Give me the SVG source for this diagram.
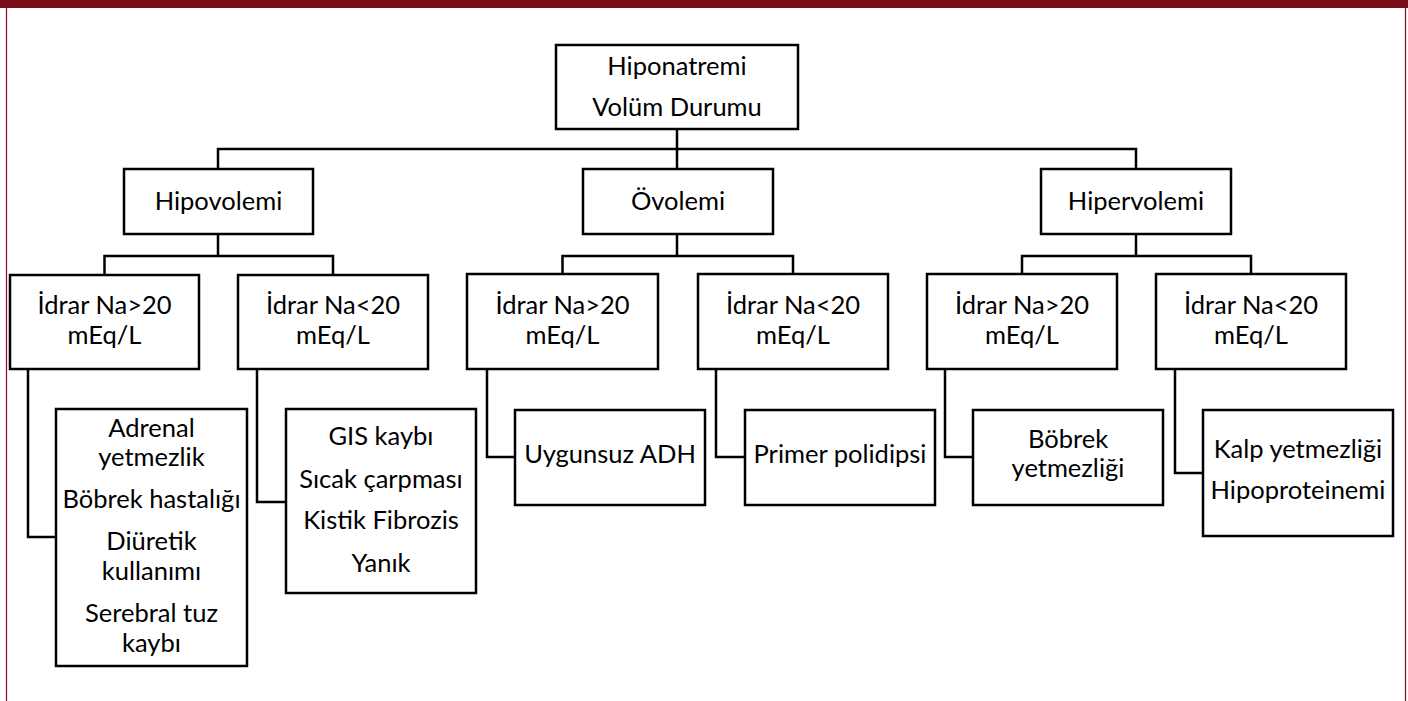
<svg xmlns="http://www.w3.org/2000/svg" width="1408" height="701" viewBox="0 0 1408 701">
<style>
.box{fill:#fff;stroke:#000;stroke-width:2.5}
.ln{fill:none;stroke:#000;stroke-width:2.5}
text{font-family:Lato,"Open Sans",sans-serif;font-size:25.5px;fill:#000;text-anchor:middle}
</style>
<rect x="0" y="0" width="1408" height="701" fill="#fff"/>
<rect x="0" y="0" width="1408" height="8" fill="#7a0f17"/>
<line x1="6.5" y1="8" x2="6.5" y2="701" stroke="#7a0f17" stroke-width="1.2"/>
<line x1="1405.5" y1="8" x2="1405.5" y2="701" stroke="#7a0f17" stroke-width="1.2"/>
<g id="connectors">
<path class="ln" d="M677 129V169M218 169V149H1136V169"/>
<path class="ln" d="M218 234V256M104.5 275V256H333V275"/>
<path class="ln" d="M677 234V256M562.5 274V256H793V274"/>
<path class="ln" d="M1136 234V256M1022 274V256H1251V274"/>
<path class="ln" d="M28 369V537H56"/>
<path class="ln" d="M257 369V502H286"/>
<path class="ln" d="M487 369V457H515"/>
<path class="ln" d="M716 369V457H745"/>
<path class="ln" d="M945 369V457H973"/>
<path class="ln" d="M1175 369V473H1203"/>
</g>
<g id="root"><rect class="box" x="556" y="45" width="242" height="84"/><text x="677" y="75">Hiponatremi</text><text x="677" y="116">Volüm Durumu</text></g>
<g id="hipovolemi"><rect class="box" x="124" y="169" width="189" height="65"/><text x="218.5" y="210">Hipovolemi</text></g>
<g id="ovolemi"><rect class="box" x="583" y="169" width="190" height="65"/><text x="678" y="210">Övolemi</text></g>
<g id="hipervolemi"><rect class="box" x="1041" y="169" width="190" height="65"/><text x="1136" y="210">Hipervolemi</text></g>
<g id="hipo-gt"><rect class="box" x="10" y="275" width="189" height="94"/><text x="104.5" y="314">İdrar Na&gt;20</text><text x="104.5" y="344">mEq/L</text></g>
<g id="hipo-lt"><rect class="box" x="238" y="275" width="190" height="94"/><text x="333" y="314">İdrar Na&lt;20</text><text x="333" y="344">mEq/L</text></g>
<g id="ov-gt"><rect class="box" x="467" y="274" width="191" height="95"/><text x="562.5" y="314">İdrar Na&gt;20</text><text x="562.5" y="344">mEq/L</text></g>
<g id="ov-lt"><rect class="box" x="698" y="274" width="190" height="95"/><text x="793" y="314">İdrar Na&lt;20</text><text x="793" y="344">mEq/L</text></g>
<g id="hiper-gt"><rect class="box" x="927" y="274" width="190" height="95"/><text x="1022" y="314">İdrar Na&gt;20</text><text x="1022" y="344">mEq/L</text></g>
<g id="hiper-lt"><rect class="box" x="1156" y="274" width="190" height="95"/><text x="1251" y="314">İdrar Na&lt;20</text><text x="1251" y="344">mEq/L</text></g>
<g id="leaf-adrenal"><rect class="box" x="56" y="409" width="191" height="257"/>
<text x="151.5" y="437">Adrenal</text><text x="151.5" y="466">yetmezlik</text><text x="151.5" y="508">Böbrek hastalığı</text><text x="151.5" y="550">Diüretik</text><text x="151.5" y="580">kullanımı</text><text x="151.5" y="622">Serebral tuz</text><text x="151.5" y="652">kaybı</text></g>
<g id="leaf-gis"><rect class="box" x="286" y="409" width="190" height="184"/>
<text x="381" y="445">GIS kaybı</text><text x="381" y="488">Sıcak çarpması</text><text x="381" y="529">Kistik Fibrozis</text><text x="381" y="572">Yanık</text></g>
<g id="leaf-adh"><rect class="box" x="515" y="410" width="190" height="95"/><text x="610" y="463">Uygunsuz ADH</text></g>
<g id="leaf-primer"><rect class="box" x="745" y="410" width="190" height="95"/><text x="840" y="463">Primer polidipsi</text></g>
<g id="leaf-bobrek"><rect class="box" x="973" y="410" width="190" height="95"/><text x="1068" y="448">Böbrek</text><text x="1068" y="477">yetmezliği</text></g>
<g id="leaf-kalp"><rect class="box" x="1203" y="410" width="190" height="126"/><text x="1298" y="458">Kalp yetmezliği</text><text x="1298" y="499">Hipoproteinemi</text></g>
</svg>
